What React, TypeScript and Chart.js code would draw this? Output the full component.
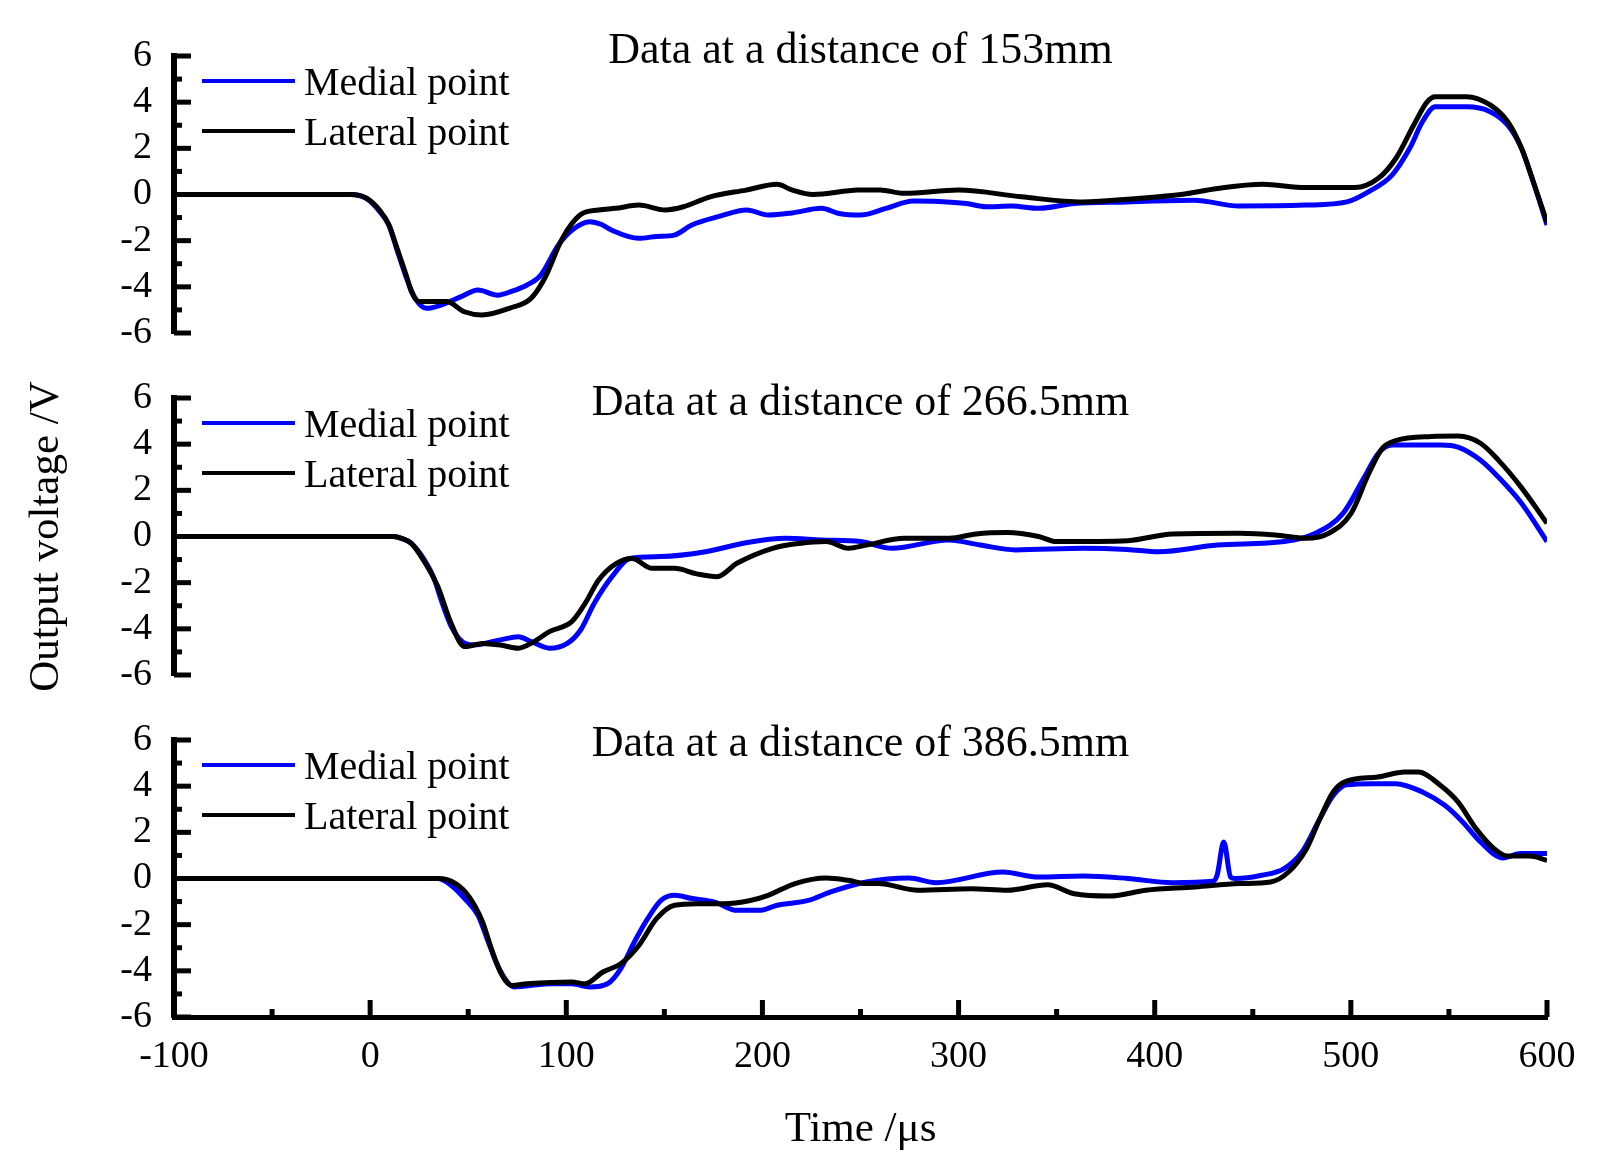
import React, { useEffect, useRef } from "react";
import Chart from "chart.js/auto";

const FONT = '"Liberation Serif", "Times New Roman", Times, serif';
const BLUE = "#0000ff";
const BLACK = "#000000";

const X_MIN = -100;
const X_MAX = 600;
const Y_MIN = -6;
const Y_MAX = 6;

// 153 mm
const medial153Time = [-100, -50, -10, -2, 5, 9.5, 14, 18.6, 23, 28.8, 34, 39, 47, 55, 65, 72, 80, 87, 96, 103, 112, 118, 123, 137, 146, 155, 164, 178, 192, 203, 215, 230, 239, 250, 263, 277, 290, 304, 314, 327, 341, 359, 386, 420, 443, 477, 498, 509, 521, 530, 536.5, 543, 559, 571, 580, 587, 593, 600];
const medial153Volt = [0, 0, 0, -0.17, -0.75, -1.32, -2.48, -3.63, -4.5, -4.93, -4.85, -4.7, -4.4, -4.14, -4.36, -4.2, -3.92, -3.49, -2.19, -1.54, -1.18, -1.3, -1.54, -1.9, -1.82, -1.76, -1.32, -0.95, -0.67, -0.89, -0.8, -0.6, -0.82, -0.89, -0.6, -0.28, -0.3, -0.39, -0.53, -0.5, -0.6, -0.39, -0.32, -0.25, -0.5, -0.46, -0.32, 0.12, 0.84, 2.0, 3.15, 3.8, 3.8, 3.59, 3.0, 2.0, 0.55, -1.32];
const lateral153Time = [-100, -50, -10, -2, 5, 9.5, 14, 18.6, 21, 25, 39, 48, 57, 71, 82, 89, 98, 107, 116.5, 125, 137, 150.6, 159.7, 173.4, 191.6, 207.4, 215, 225.7, 248.5, 260, 272, 300, 332, 363, 391, 413.5, 432, 455, 477, 502, 514, 523, 532, 539, 543, 559, 571, 580, 587, 593, 600];
const lateral153Volt = [0, 0, 0, -0.15, -0.7, -1.3, -2.4, -3.55, -4.2, -4.64, -4.64, -5.08, -5.22, -4.93, -4.5, -3.63, -1.9, -0.89, -0.67, -0.6, -0.46, -0.67, -0.53, -0.1, 0.19, 0.44, 0.2, 0, 0.19, 0.2, 0.05, 0.19, -0.1, -0.32, -0.17, 0, 0.26, 0.44, 0.3, 0.3, 0.7, 1.57, 3.0, 4.02, 4.24, 4.24, 3.88, 3.15, 2.0, 0.55, -1.2];

// 266.5 mm
const medial266Time = [-100, -50, 0, 12, 16, 21, 27.7, 32.2, 36.8, 41.4, 47, 52.7, 66.4, 75.5, 82.3, 91.4, 100.5, 107.3, 114.2, 123.3, 132.4, 148.3, 171, 191.6, 212, 230, 250, 266, 295, 311, 329, 364, 386, 402, 432, 466, 482, 496, 507, 514, 521, 546, 555, 566, 575, 587, 600];
const medial266Volt = [0, 0, 0, 0, -0.08, -0.3, -1.02, -1.74, -2.9, -3.9, -4.56, -4.7, -4.48, -4.34, -4.56, -4.84, -4.63, -4.05, -2.9, -1.74, -0.95, -0.87, -0.66, -0.27, -0.08, -0.15, -0.22, -0.51, -0.15, -0.37, -0.58, -0.51, -0.56, -0.66, -0.37, -0.22, 0.14, 1.0, 2.59, 3.6, 3.96, 3.96, 3.86, 3.31, 2.59, 1.44, -0.22];
const lateral266Time = [-100, -50, 0, 12, 16, 21, 27, 34.5, 41, 48.2, 57.3, 66.4, 75.5, 83.5, 91.4, 102.8, 109.6, 116.5, 125.6, 133.5, 143.8, 155.2, 166.5, 176.8, 187, 205.2, 218.9, 232.5, 243.9, 253, 272.5, 295.3, 308.9, 324.9, 340.8, 349.9, 386.3, 409, 443.2, 461.4, 477.4, 488.7, 500.1, 509.2, 516, 522.9, 541.1, 554.7, 566.1, 575.2, 586.6, 600];
const lateral266Volt = [0, 0, 0, 0, -0.08, -0.3, -1.0, -2.17, -3.7, -4.77, -4.63, -4.7, -4.84, -4.56, -4.12, -3.69, -2.9, -1.88, -1.16, -0.95, -1.38, -1.38, -1.62, -1.74, -1.16, -0.51, -0.3, -0.22, -0.51, -0.37, -0.08, -0.08, 0.11, 0.17, 0, -0.22, -0.18, 0.11, 0.14, 0.07, -0.08, 0.14, 1.0, 2.74, 3.82, 4.15, 4.33, 4.35, 4.04, 3.31, 2.16, 0.57];

// 386.5 mm
const medial386Time = [-100, -50, 0, 34.5, 41.4, 48.2, 55, 59.6, 64.1, 68.7, 73.2, 91.4, 102.8, 111.9, 121, 127.8, 134.7, 141.5, 148.3, 155.2, 164.3, 175.6, 187, 198.4, 207.5, 223.4, 234.8, 253, 274.8, 288.4, 322.6, 340.8, 363.6, 386.3, 409.1, 429.6, 431.8, 435.2, 438.7, 440.9, 454.6, 466, 475.1, 484.2, 491, 497.8, 511.5, 522.9, 536.5, 547.9, 557, 566.1, 577.5, 586.6, 600];
const medial386Volt = [0, 0, 0, 0, -0.3, -0.87, -1.6, -2.6, -3.6, -4.34, -4.7, -4.56, -4.56, -4.7, -4.56, -3.9, -2.75, -1.74, -0.95, -0.73, -0.87, -1.02, -1.38, -1.38, -1.16, -0.95, -0.58, -0.15, 0.02, -0.18, 0.28, 0.06, 0.11, 0, -0.18, -0.12, 0.14, 1.58, 0.06, 0, 0.14, 0.43, 1.15, 2.59, 3.6, 4.06, 4.11, 4.11, 3.75, 3.17, 2.45, 1.58, 0.89, 1.08, 1.08];
const lateral386Time = [-100, -50, 0, 34.5, 43.6, 50.5, 57.3, 61.8, 66.4, 72.1, 80, 102.8, 109.6, 118.7, 127.8, 137, 146, 155.2, 166.5, 180.2, 193.8, 202.9, 216.6, 232.5, 243.9, 253, 258.9, 279.3, 306.7, 324.9, 345.3, 359, 377.2, 395.4, 420.5, 443.2, 459.1, 468.2, 477.4, 484.2, 491, 496.7, 513.8, 527.4, 534.3, 545.6, 554.7, 563.8, 573, 579.8, 591.2, 600];
const lateral386Volt = [0, 0, 0, 0, -0.22, -0.8, -1.88, -3.04, -4.05, -4.63, -4.56, -4.48, -4.56, -4.05, -3.69, -2.9, -1.74, -1.16, -1.09, -1.09, -0.95, -0.73, -0.22, 0.02, -0.08, -0.22, -0.22, -0.51, -0.44, -0.51, -0.27, -0.66, -0.76, -0.51, -0.37, -0.22, -0.15, 0.28, 1.29, 2.59, 3.75, 4.18, 4.4, 4.61, 4.61, 4.04, 3.31, 2.16, 1.29, 0.97, 0.97, 0.79];

const legendLabels = ["Medial point", "Lateral point"];

// page layout (px)
const PAGE_W = 1612;
const PAGE_H = 1174;
const PLOT_LEFT = 174;
const PLOT_RIGHT = 1547;
const PLOT_H = 277;
const PAD_TOP = 56;

interface PanelCfg {
  title: string;
  titleDy: number;
  top: number;
  medialT: number[];
  medialV: number[];
  lateralT: number[];
  lateralV: number[];
  showX: boolean;
  yTitle: boolean;
}

const panels: PanelCfg[] = [
  { title: "Data at a distance of 153mm", titleDy: 7, top: 56, medialT: medial153Time, medialV: medial153Volt, lateralT: lateral153Time, lateralV: lateral153Volt, showX: false, yTitle: false },
  { title: "Data at a distance of 266.5mm", titleDy: 17, top: 398, medialT: medial266Time, medialV: medial266Volt, lateralT: lateral266Time, lateralV: lateral266Volt, showX: false, yTitle: true },
  { title: "Data at a distance of 386.5mm", titleDy: 16, top: 740, medialT: medial386Time, medialV: medial386Volt, lateralT: lateral386Time, lateralV: lateral386Volt, showX: true, yTitle: false },
];

const toPoints = (t: number[], v: number[]) => t.map((x, i) => ({ x, y: v[i] }));

// inward ticks, panel title and the legend drawn on top of the chart area
function decor(cfg: PanelCfg) {
  return {
    id: "panelDecor",
    afterDraw(chart: any) {
      const { ctx, chartArea } = chart;
      const xs = chart.scales.x;
      const ys = chart.scales.y;
      ctx.save();
      ctx.strokeStyle = BLACK;
      ctx.lineWidth = 5;
      for (let v = Y_MIN; v <= Y_MAX; v += 1) {
        const py = ys.getPixelForValue(v);
        const len = v % 2 === 0 ? 17 : 8;
        ctx.beginPath();
        ctx.moveTo(chartArea.left, py);
        ctx.lineTo(chartArea.left + len, py);
        ctx.stroke();
      }
      if (cfg.showX) {
        for (let t = X_MIN; t <= X_MAX; t += 50) {
          const px = xs.getPixelForValue(t);
          const len = t % 100 === 0 ? 17 : 8;
          ctx.beginPath();
          ctx.moveTo(px, chartArea.bottom);
          ctx.lineTo(px, chartArea.bottom - len);
          ctx.stroke();
        }
      }

      ctx.fillStyle = BLACK;
      ctx.textBaseline = "alphabetic";
      ctx.textAlign = "center";
      ctx.font = `44px ${FONT}`;
      ctx.fillText(cfg.title, (chartArea.left + chartArea.right) / 2, chartArea.top + cfg.titleDy);

      ctx.textAlign = "left";
      ctx.font = `40px ${FONT}`;
      const colors = [BLUE, BLACK];
      legendLabels.forEach((label, i) => {
        const ly = chartArea.top + 25 + i * 50;
        ctx.strokeStyle = colors[i];
        ctx.lineWidth = 4;
        ctx.beginPath();
        ctx.moveTo(chartArea.left + 28, ly);
        ctx.lineTo(chartArea.left + 121, ly);
        ctx.stroke();
        ctx.fillText(label, chartArea.left + 130, ly + 14);
      });
      ctx.restore();
    },
  };
}

function Panel({ cfg }: { cfg: PanelCfg }) {
  const canvasRef = useRef<HTMLCanvasElement | null>(null);
  const canvasTop = cfg.top - PAD_TOP;
  const canvasH = cfg.showX ? PAGE_H - canvasTop : 400;
  const bottomSpace = canvasH - PAD_TOP - PLOT_H;

  useEffect(() => {
    if (!canvasRef.current) return;
    const chart = new Chart(canvasRef.current, {
      type: "line",
      data: {
        datasets: [
          {
            label: legendLabels[0],
            data: toPoints(cfg.medialT, cfg.medialV),
            borderColor: BLUE,
            borderWidth: 5,
            pointRadius: 0,
            cubicInterpolationMode: "monotone",
            order: 2,
          },
          {
            label: legendLabels[1],
            data: toPoints(cfg.lateralT, cfg.lateralV),
            borderColor: BLACK,
            borderWidth: 5,
            pointRadius: 0,
            cubicInterpolationMode: "monotone",
            order: 1,
          },
        ],
      },
      options: {
        responsive: false,
        animation: false,
        layout: {
          padding: {
            top: PAD_TOP,
            right: PAGE_W - PLOT_RIGHT,
            bottom: cfg.showX ? 0 : bottomSpace,
            left: 0,
          },
        },
        plugins: {
          legend: { display: false },
          title: { display: false },
          tooltip: { enabled: false },
        },
        scales: {
          x: {
            type: "linear",
            min: X_MIN,
            max: X_MAX,
            display: cfg.showX,
            grid: { display: false, drawTicks: false },
            border: { display: true, color: BLACK, width: 5 },
            ticks: {
              stepSize: 100,
              autoSkip: false,
              maxRotation: 0,
              padding: 17,
              color: BLACK,
              font: { family: FONT, size: 38 },
              callback: (v: any) => String(v),
            },
            title: {
              display: cfg.showX,
              text: "Time /μs",
              color: BLACK,
              font: { family: FONT, size: 43 },
              padding: { top: 0, bottom: 18 },
            },
            afterFit: (axis: any) => {
              if (cfg.showX) axis.height = bottomSpace;
            },
          },
          y: {
            min: Y_MIN,
            max: Y_MAX,
            grid: { display: false, drawTicks: false },
            border: { display: true, color: BLACK, width: 6 },
            ticks: {
              stepSize: 2,
              autoSkip: false,
              padding: 22,
              color: BLACK,
              font: { family: FONT, size: 38 },
              callback: (v: any) => String(v),
            },
            title: {
              display: cfg.yTitle,
              text: "Output voltage /V",
              color: BLACK,
              font: { family: FONT, size: 43 },
              padding: { top: 21, bottom: 0 },
            },
            afterFit: (axis: any) => {
              axis.width = PLOT_LEFT;
            },
          },
        },
      },
      plugins: [decor(cfg)],
    });
    return () => chart.destroy();
  }, [cfg]);

  return (
    <canvas
      ref={canvasRef}
      width={PAGE_W}
      height={canvasH}
      style={{ position: "absolute", left: 0, top: canvasTop, width: PAGE_W, height: canvasH }}
    />
  );
}

export default function App() {
  return (
    <div style={{ position: "absolute", left: 0, top: 0, width: PAGE_W, height: PAGE_H, background: "#fff" }}>
      {panels.map((p) => (
        <Panel key={p.title} cfg={p} />
      ))}
    </div>
  );
}
